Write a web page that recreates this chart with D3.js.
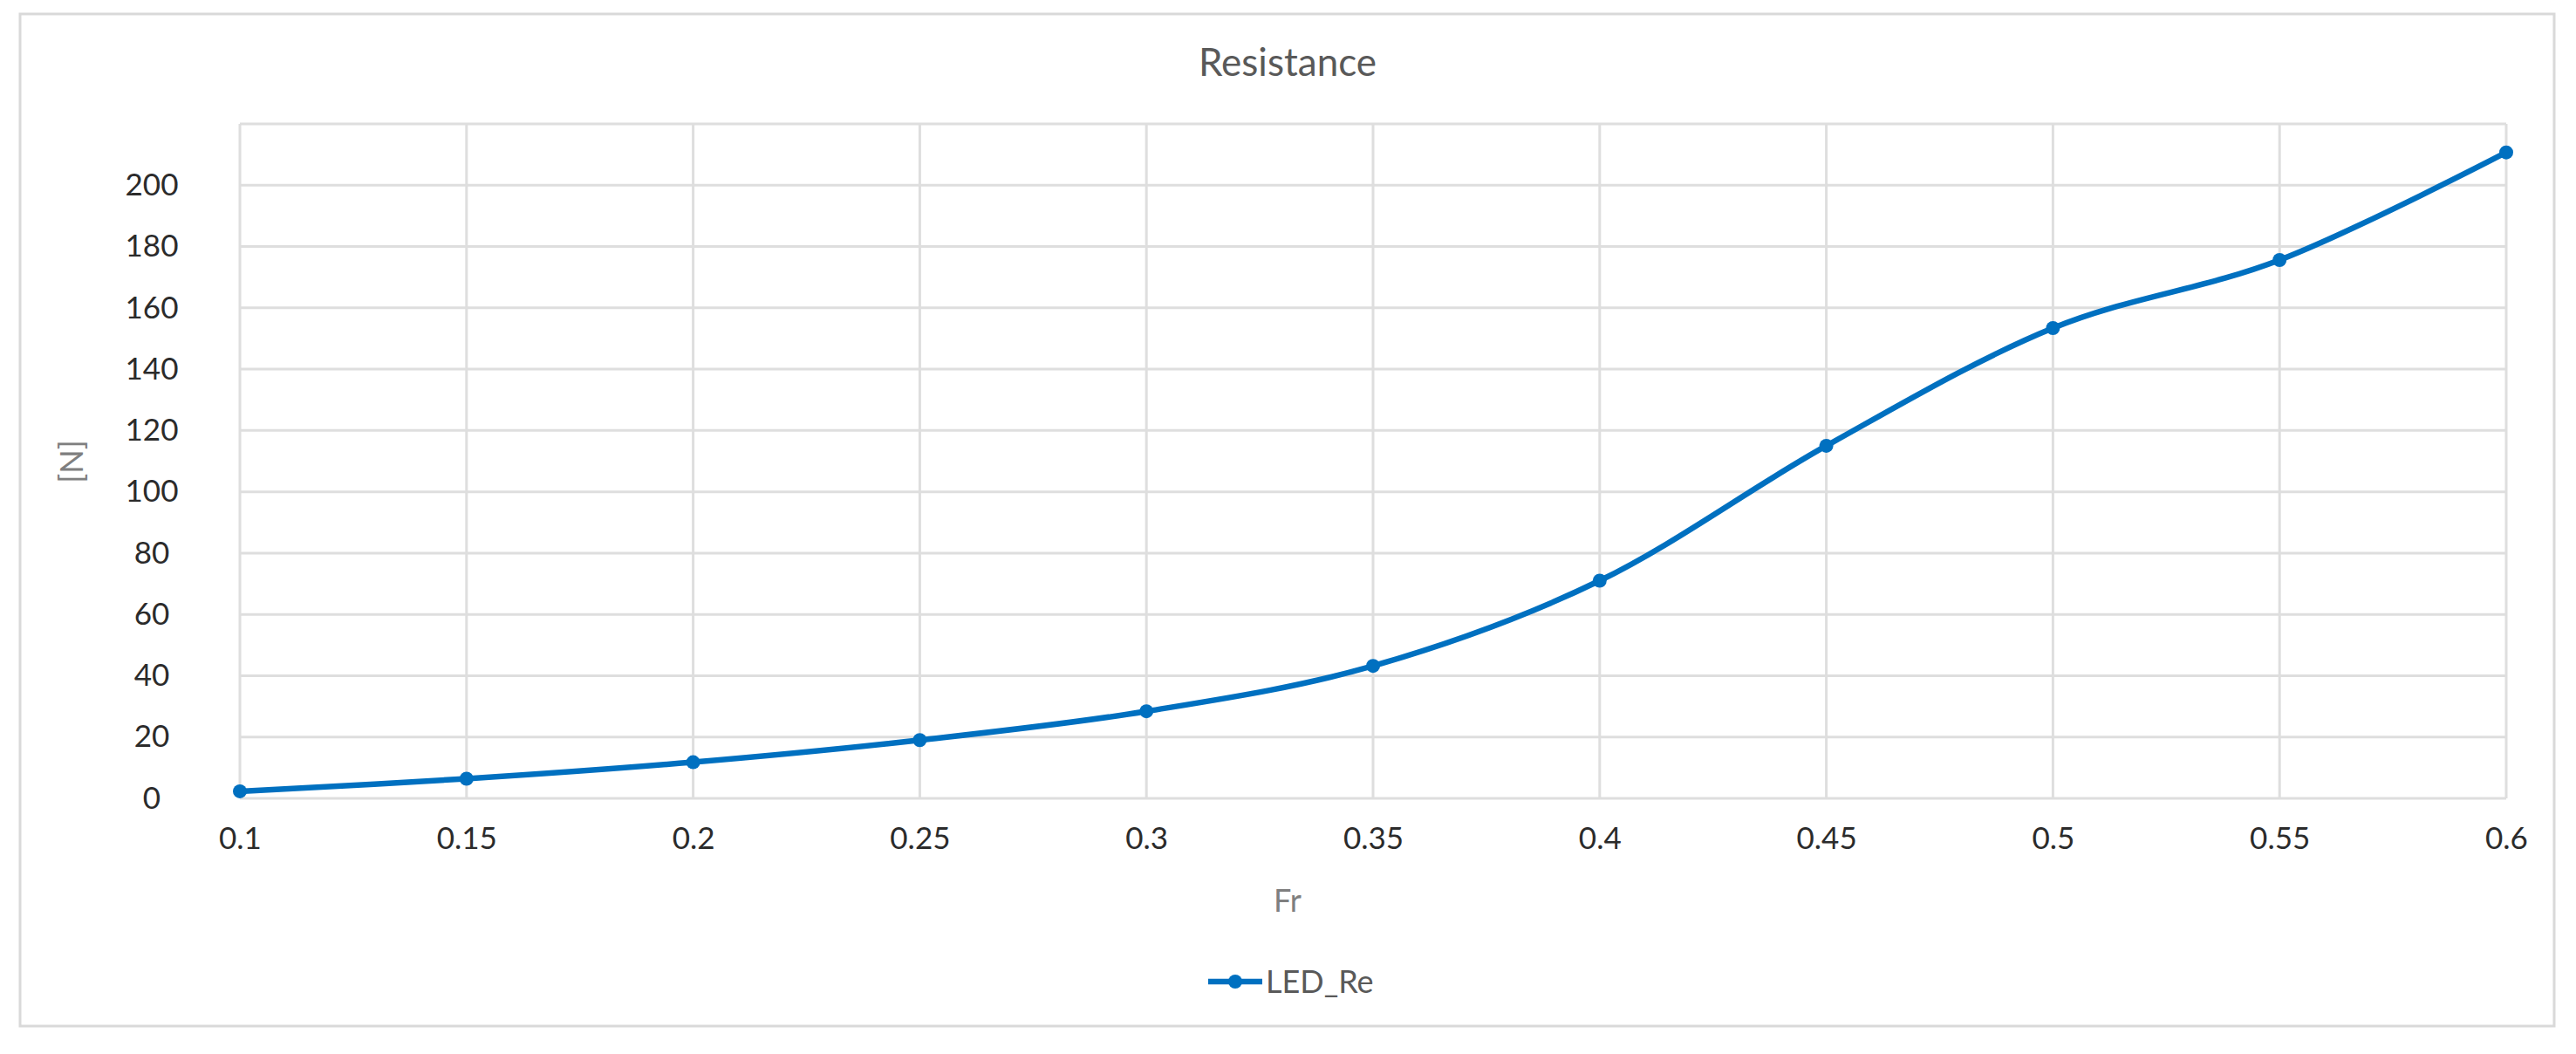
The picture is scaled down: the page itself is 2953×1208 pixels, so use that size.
<html>
<head>
<title>Resistance</title>
<style>
body {
	margin: 0;
	background: #fff;
}
text {
	font-family: Lato, "Open Sans", sans-serif;
}
</style>
</head>
<body>
	<div id="chart"></div>
</body>
<script src="https://d3js.org/d3.v7.min.js"></script>
<script>
	// values
	var frValues = [ 0.1, 0.15, 0.2, 0.25, 0.3, 0.35, 0.4, 0.45, 0.5, 0.55, 0.6 ];
	var ledRe = [ 2.3, 6.4, 11.8, 19.0, 28.4, 43.2, 71.0, 115.0, 153.4, 175.6, 210.7 ];
	var yTicks = [ 0, 20, 40, 60, 80, 100, 120, 140, 160, 180, 200 ];
	var xTickLabels = [ "0.1", "0.15", "0.2", "0.25", "0.3", "0.35", "0.4", "0.45", "0.5", "0.55", "0.6" ];
	var seriesName = "LED_Re";

	var W = 2953, H = 1208;
	var plot = { left : 275, right : 2873, top : 142, bottom : 915 };
	var lineColor = "#0070c0";

	var svg = d3.select("#chart").append("svg").attr("width", W).attr("height", H);

	// chart border
	svg.append("rect").attr("x", 23).attr("y", 16).attr("width", 2905)
			.attr("height", 1160).attr("fill", "#fff").attr("stroke", "#d9d9d9")
			.attr("stroke-width", 3);

	var x = d3.scaleLinear().domain([ 0.1, 0.6 ]).range([ plot.left, plot.right ]);
	var y = d3.scaleLinear().domain([ 0, 220 ]).range([ plot.bottom, plot.top ]);

	// gridlines
	var grid = svg.append("g").attr("stroke", "#dedede").attr("stroke-width", 3);
	grid.selectAll("line.h").data(yTicks.concat([ 220 ])).enter().append("line")
			.attr("class", "h").attr("x1", plot.left).attr("x2", plot.right)
			.attr("y1", function(d) { return y(d); })
			.attr("y2", function(d) { return y(d); });
	grid.selectAll("line.v").data(frValues).enter().append("line")
			.attr("class", "v").attr("y1", plot.top).attr("y2", plot.bottom)
			.attr("x1", function(d) { return x(d); })
			.attr("x2", function(d) { return x(d); });

	// y axis labels (centred like the original)
	var yAxis = d3.axisLeft(y).tickValues(yTicks).tickSize(0).tickPadding(0);
	var gy = svg.append("g").attr("transform", "translate(174,0)").call(yAxis);
	gy.select(".domain").remove();
	gy.selectAll("text").attr("text-anchor", "middle").attr("font-size", 35)
			.attr("fill", "#2b2b2b").attr("font-family", "Lato, sans-serif");

	// x axis labels
	var xAxis = d3.axisBottom(x).tickValues(frValues).tickSize(0).tickPadding(0)
			.tickFormat(function(d, i) { return xTickLabels[i]; });
	var gx = svg.append("g").attr("transform", "translate(0,948)").call(xAxis);
	gx.select(".domain").remove();
	gx.selectAll("text").attr("font-size", 35).attr("fill", "#2b2b2b")
			.attr("font-family", "Lato, sans-serif");

	// titles
	svg.append("text").attr("x", 1476).attr("y", 72).attr("dy", "0.35em")
			.attr("text-anchor", "middle").attr("font-size", 44)
			.attr("fill", "#595959").text("Resistance");
	svg.append("text").attr("x", 1476).attr("y", 1032).attr("dy", "0.35em")
			.attr("text-anchor", "middle").attr("font-size", 36)
			.attr("fill", "#7f7f7f").text("Fr");
	svg.append("text").attr("transform", "translate(82,529) rotate(-90)")
			.attr("dy", "0.35em").attr("text-anchor", "middle")
			.attr("font-size", 36).attr("fill", "#7f7f7f").text("[N]");

	// smoothed series line
	var pts = frValues.map(function(d, i) { return [ d, ledRe[i] ]; });
	var line = d3.line().x(function(d) { return x(d[0]); })
			.y(function(d) { return y(d[1]); })
			.curve(d3.curveCardinal.tension(0));
	svg.append("path").datum(pts).attr("d", line).attr("fill", "none")
			.attr("stroke", lineColor).attr("stroke-width", 6.5)
			.attr("stroke-linejoin", "round");
	svg.selectAll("circle.pt").data(pts).enter().append("circle")
			.attr("class", "pt").attr("cx", function(d) { return x(d[0]); })
			.attr("cy", function(d) { return y(d[1]); }).attr("r", 8)
			.attr("fill", lineColor);

	// legend
	var lg = svg.append("g").attr("transform", "translate(1385,1125)");
	lg.append("line").attr("x1", 0).attr("x2", 62).attr("y1", 0).attr("y2", 0)
			.attr("stroke", lineColor).attr("stroke-width", 6.5);
	lg.append("circle").attr("cx", 31).attr("cy", 0).attr("r", 8).attr("fill", lineColor);
	lg.append("text").attr("x", 66).attr("dy", "0.35em").attr("font-size", 36)
			.attr("fill", "#595959").text(seriesName);
</script>
</html>
